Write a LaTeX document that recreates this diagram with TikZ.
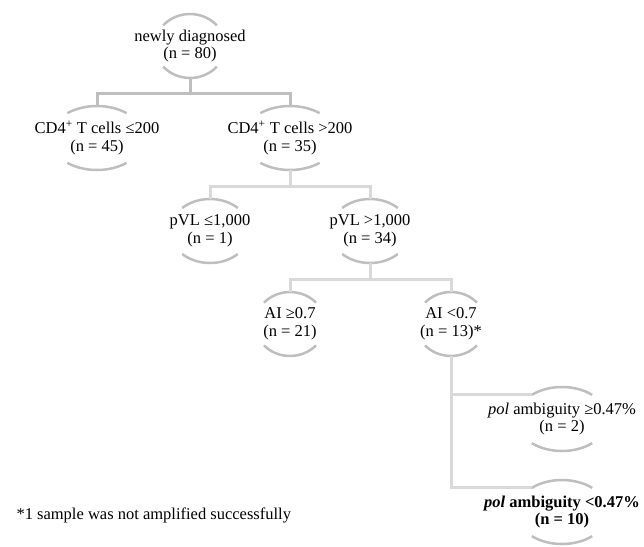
\documentclass[tikz,border=0pt]{standalone}
\usepackage{fontspec}
\setmainfont{Liberation Serif}
\usetikzlibrary{positioning}
\definecolor{rimgray}{RGB}{190,190,190}
\definecolor{linkgray}{RGB}{217,217,217}

\begin{document}
\begin{tikzpicture}[node distance=92pt,on grid,
    group/.style={minimum height=64pt,inner sep=0pt,align=center,font=\fontsize{16.5}{17.5}\selectfont},
    rim/.style={draw=rimgray,line width=2.5pt},
    toplink/.style={draw=rimgray,line width=3pt},
    link/.style={draw=linkgray,line width=3pt}]
    \useasboundingbox (0,0) rectangle (644pt,-546pt);
    \node[group] (root)  at (190pt,-46pt)                   {newly diagnosed\\(n = 80)};
    \node[group] (cd4lo) [below left=92pt and 93pt of root]  {CD4\textsuperscript{+} T cells ≤200\\(n = 45)};
    \node[group] (cd4hi) [below right=92pt and 100pt of root] {CD4\textsuperscript{+} T cells >200\\(n = 35)};
    \node[group] (pvllo) [below left=93pt and 80pt of cd4hi]  {pVL ≤1,000\\(n = 1)};
    \node[group] (pvlhi) [below right=93pt and 80pt of cd4hi] {pVL >1,000\\(n = 34)};
    \node[group] (aige)  [below left=93pt and 80pt of pvlhi]  {AI ≥0.7\\(n = 21)};
    \node[group] (ailt)  [below right=93pt and 81pt of pvlhi] {AI <0.7\\(n = 13)*};
    \node[group] (polge) [below right=95pt and 111pt of ailt] {\textit{pol} ambiguity ≥0.47\%\\(n = 2)};
    \node[group,font=\fontsize{16.5}{17.5}\selectfont\bfseries] (pollt) [below=93pt of polge] {\textit{pol} ambiguity <0.47\%\\(n = 10)};
    \node[anchor=base west,font=\fontsize{16.5}{17.5}\selectfont] (note) at (13pt,-519pt) {*1 sample was not amplified successfully};

    \foreach \n/\a/\t in {root/35/40,cd4lo/47/51,cd4hi/47/51,pvllo/40/46,pvlhi/40/46,aige/35/42,ailt/35/42,polge/46/49,pollt/46/49}
        \path[rim] ([shift={(\t:\a pt and 32pt)}]\n.center) arc[start angle=\t,end angle=180-\t,x radius=\a pt,y radius=32pt]
                   ([shift={(180+\t:\a pt and 32pt)}]\n.center) arc[start angle=180+\t,end angle=360-\t,x radius=\a pt,y radius=32pt];

    \coordinate[above=12pt of cd4lo.north] (f1);
    \coordinate[above=12pt of pvllo.north] (f2);
    \coordinate[above=12pt of aige.north]  (f3);
    \path[toplink] (root.south) -- (root.south |- f1) (cd4lo.north) |- (f1) -| (cd4hi.north);
    \path[link] (cd4hi.south) -- (cd4hi.south |- f2) (pvllo.north) |- (f2) -| (pvlhi.north);
    \path[link] (pvlhi.south) -- (pvlhi.south |- f3) (aige.north) |- (f3) -| (ailt.north);
    \path[link] (ailt.south) |- ([shift={(131:46pt and 32pt)}]polge.center)
                (ailt.south) |- ([shift={(131:46pt and 32pt)}]pollt.center);
\end{tikzpicture}
\end{document}
